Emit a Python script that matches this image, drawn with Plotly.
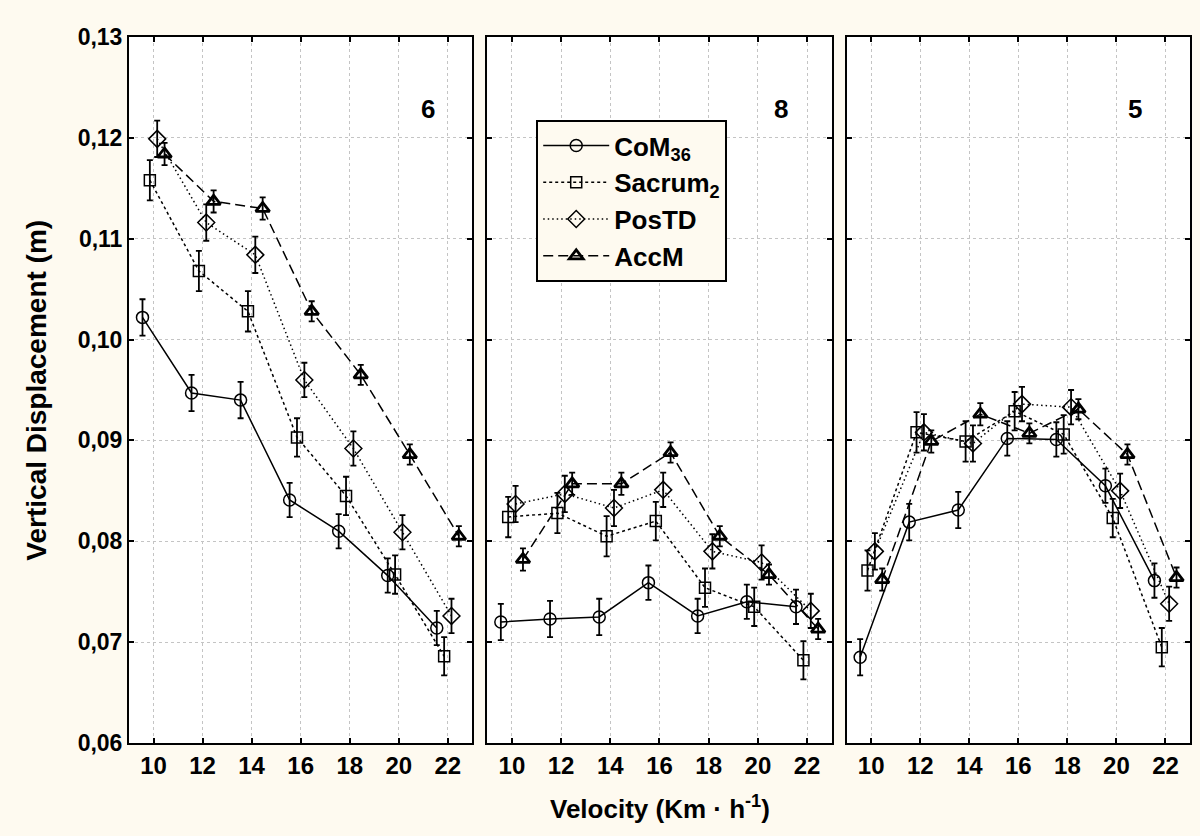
import plotly.graph_objects as go

# ---- data ----
velocity = [10, 12, 14, 16, 18, 20, 22]
panels = ["6", "8", "5"]
series_names = ["CoM<sub>36</sub>", "Sacrum<sub>2</sub>", "PosTD", "AccM"]

p6_com = [0.1022, 0.0947, 0.0940, 0.0841, 0.0810, 0.0766, 0.0714]
p6_sacrum = [0.1158, 0.1068, 0.1028, 0.0903, 0.0845, 0.0767, 0.0686]
p6_postd = [0.1199, 0.1116, 0.1084, 0.0960, 0.0892, 0.0809, 0.0726]
p6_accm = [0.1184, 0.1137, 0.1130, 0.1028, 0.0965, 0.0886, 0.0805]

p8_com = [0.0720, 0.0723, 0.0725, 0.0759, 0.0726, 0.0740, 0.0735]
p8_sacrum = [0.0824, 0.0828, 0.0805, 0.0820, 0.0754, 0.0735, 0.0682]
p8_postd = [0.0837, 0.0847, 0.0833, 0.0851, 0.0790, 0.0779, 0.0731]
p8_accm = [0.0782, 0.0857, 0.0857, 0.0888, 0.0805, 0.0767, 0.0713]

p5_com = [0.0685, 0.0819, 0.0831, 0.0902, 0.0901, 0.0855, 0.0761]
p5_sacrum = [0.0771, 0.0908, 0.0899, 0.0929, 0.0906, 0.0823, 0.0695]
p5_postd = [0.0790, 0.0908, 0.0897, 0.0936, 0.0933, 0.0850, 0.0738]
p5_accm = [0.0762, 0.0899, 0.0926, 0.0907, 0.0931, 0.0886, 0.0764]

err_com = [0.0018, 0.0018, 0.0018, 0.0017, 0.0017, 0.0017, 0.0017]
err_sacrum = [0.0020, 0.0020, 0.0020, 0.0019, 0.0019, 0.0019, 0.0019]
err_postd = [0.0018, 0.0018, 0.0018, 0.0017, 0.0017, 0.0017, 0.0017]
err_accm = [0.0011, 0.0011, 0.0011, 0.0010, 0.0010, 0.0010, 0.0010]

panel_data = [
    [p6_com, p6_sacrum, p6_postd, p6_accm],
    [p8_com, p8_sacrum, p8_postd, p8_accm],
    [p5_com, p5_sacrum, p5_postd, p5_accm],
]
errors = [err_com, err_sacrum, err_postd, err_accm]
label_x = [21.2, 20.95, 20.75]
label_y = 0.1229

# ---- styles ----
dodge = [-0.45, -0.15, 0.15, 0.45]
symbols = ["circle-open", "square-open", "diamond-open", "triangle-up-open"]
msizes = [12, 11, 13, 12]
mwidths = [1.5, 1.5, 1.5, 2.8]
dashes = ["solid", "3px,3px", "1.5px,3px", "10px,5px"]

FONT = "Liberation Sans, Arial, sans-serif"
fig = go.Figure()

domains = [[0.0, 0.3236], [0.3377, 0.6623], [0.6764, 1.0]]

for p in range(3):
    xa = "x" if p == 0 else f"x{p+1}"
    ya = "y" if p == 0 else f"y{p+1}"
    for s in range(4):
        xs = [v + dodge[s] for v in velocity]
        fig.add_trace(go.Scatter(
            x=xs, y=panel_data[p][s], xaxis=xa, yaxis=ya,
            mode="lines+markers", name=series_names[s],
            legendgroup=series_names[s], showlegend=(p == 1),
            line=dict(color="black", width=1.5, dash=dashes[s]),
            marker=dict(symbol=symbols[s], size=msizes[s], color="black",
                        line=dict(color="black", width=mwidths[s])),
            error_y=dict(type="data", array=errors[s], visible=True,
                         color="black", thickness=1.8, width=3),
        ))
    fig.add_annotation(x=label_x[p], y=label_y, xref=xa, yref=ya, text="<b>%s</b>" % panels[p],
                       showarrow=False, font=dict(family=FONT, size=26, color="black"))

axis_common = dict(showline=True, linecolor="black", linewidth=2, mirror="ticks",
                   ticks="inside", ticklen=5, tickwidth=1.5, tickcolor="black",
                   showgrid=True, gridcolor="#c4c4c4", griddash="dot", gridwidth=1,
                   zeroline=False)

layout = dict(
    width=1200, height=836,
    margin=dict(l=129, r=8, t=37, b=93),
    paper_bgcolor="#FEFAF0", plot_bgcolor="white",
    separators=",.",
    font=dict(family=FONT, color="black"),
    legend=dict(x=0.3838, y=0.8824, xanchor="left", yanchor="top",
                bgcolor="#FEFAF0", bordercolor="black", borderwidth=2,
                font=dict(family=FONT, size=26, color="black", weight="bold"),
                itemwidth=66, tracegroupgap=0),
)
for p in range(3):
    xk = "xaxis" if p == 0 else f"xaxis{p+1}"
    yk = "yaxis" if p == 0 else f"yaxis{p+1}"
    layout[xk] = dict(axis_common, domain=domains[p], range=[9, 23], tickvals=velocity,
                      anchor="y" if p == 0 else f"y{p+1}",
                      tickfont=dict(family=FONT, size=24, weight="bold"))
    layout[yk] = dict(axis_common, range=[0.06, 0.13], dtick=0.01, tick0=0.06,
                      tickformat=".2f", anchor="x" if p == 0 else f"x{p+1}",
                      showticklabels=(p == 0),
                      tickfont=dict(family=FONT, size=23, weight="bold"))
fig.update_layout(**layout)

fig.add_annotation(x=0.5, y=-0.092, xref="paper", yref="paper", yanchor="middle",
                   text="<b>Velocity (Km · h<sup>-1</sup>)</b>", showarrow=False,
                   font=dict(family=FONT, size=26, color="black"))
fig.add_annotation(x=-0.088, y=0.5, xref="paper", yref="paper", xanchor="center",
                   text="<b>Vertical Displacement (m)</b>", showarrow=False, textangle=-90,
                   font=dict(family=FONT, size=28, color="black"))

fig.write_html("out.html", config={"displayModeBar": False},
               post_script="document.body.style.margin='0';document.body.style.overflow='hidden';")
